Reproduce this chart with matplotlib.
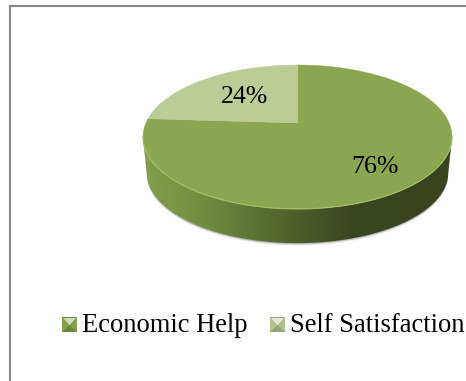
import numpy as np
import matplotlib
matplotlib.use("Agg")
import matplotlib.pyplot as plt
from matplotlib.colors import LinearSegmentedColormap, to_rgb
from matplotlib.patches import Polygon

# pie data
labels = ["Economic Help", "Self Satisfaction"]
values = [76, 24]
colors = ["#8aa650", "#bbcc97"]

W, H = 466, 381
plt.rcParams["font.family"] = ["Liberation Serif", "DejaVu Serif"]

# perspective of the pie disc, in pixels
CX = 297.5
APEX_Y = 123.0
SCALE_X = 151.6
SCALE_Y = -45.4
PERSP = 0.194
DEPTH = 36.0
SHRINK = 0.975
MID_Y = 137.0


def project(u, v):
    w = 1 + PERSP * v
    return CX + SCALE_X * u / w, (SCALE_Y * v + APEX_Y) / w


def arc(start, end, n=200):
    # angles are measured clockwise from 12 o'clock
    t = np.radians(np.linspace(start, end, n))
    return project(np.sin(t), np.cos(t))


def lower_rim(x, y):
    return CX + (x - CX) * SHRINK, MID_Y + (y - MID_Y) * SHRINK + DEPTH


def mix(color, other, amount):
    c, o = np.array(to_rgb(color)), np.array(to_rgb(other))
    return tuple(c + (o - c) * amount)


fig = plt.figure(figsize=(W / 100, H / 100), dpi=100)
ax = fig.add_axes([0, 0, 1, 1])

# outer frame, only left and top are visible
ax.plot([10, 10, W], [H, 5.8, 5.8], color="#868686", lw=1.5,
        solid_joinstyle="miter", zorder=1)

# find the widest points of the rim, the wall is drawn between them
xs, ys = arc(0, 360, 720)
left, right = np.argmin(xs), np.argmax(xs)
front = np.arange(right, left + 1)
top_x, top_y = xs[front], ys[front]
low_x, low_y = lower_rim(top_x, top_y)
wall = np.column_stack([np.r_[top_x, low_x[::-1]], np.r_[top_y, low_y[::-1]]])

# soft shadow under the wall
for off, alpha in [(2.5, 0.10), (1.5, 0.18), (0.8, 0.25)]:
    ax.add_patch(Polygon(wall + [0, off], closed=True, fc="#555555", ec="none",
                         alpha=alpha, zorder=2))

wall_cmap = LinearSegmentedColormap.from_list("wall", [
    (0.0, "#82a04c"), (0.2, "#718c41"), (0.5, "#4e5d2a"),
    (0.68, "#3a4520"), (1.0, "#394320")])
wall_patch = Polygon(wall, closed=True, fc="none", ec="none", zorder=3)
ax.add_patch(wall_patch)
grad = np.linspace(0, 1, 256).reshape(1, -1)
img = ax.imshow(grad, cmap=wall_cmap, aspect="auto", zorder=3,
                extent=[xs.min(), xs.max(), low_y.max() + 2, ys.min()])
img.set_clip_path(wall_patch)

# top face, clockwise from 12 o'clock
shares = np.array(values) / sum(values) * 360
edges = np.r_[0, np.cumsum(shares)]
apex = project(0, 0)
for start, end, col in zip(edges[:-1], edges[1:], colors):
    x, y = arc(start, end)
    pts = np.column_stack([np.r_[apex[0], x], np.r_[apex[1], y]])
    ax.add_patch(Polygon(pts, closed=True, fc=col, ec=col, lw=0.3, zorder=4))

# light bevel on the front of the rim
ax.plot(top_x, top_y, color="#a5c166", lw=0.8, zorder=5)

# percentage labels, slightly off the middle of the slice for the big one
label_radius = [0.726, 0.55]
label_nudge = [4.4, 0]
for start, share, val, r, nudge in zip(edges[:-1], shares, values, label_radius, label_nudge):
    t = np.radians(start + share / 2 + nudge)
    x, y = project(r * np.sin(t), r * np.cos(t))
    ax.text(x, y, f"{val}%", ha="center", va="center", fontsize=18.6,
            color="black", zorder=6)

# legend with small bevelled squares
key_x = [62, 270]
KEY = 15
KEY_Y = 317
for kx, name, col in zip(key_x, labels, colors):
    x0, x1, y0, y1 = kx, kx + KEY, KEY_Y, KEY_Y + KEY
    mx, my = kx + KEY / 2, KEY_Y + KEY * 0.55
    ax.add_patch(Polygon([(x0, y0), (x1, y0), (x1, y1), (x0, y1)], closed=True,
                         fc=mix(col, "black", 0.2), ec="none", zorder=4))
    ax.add_patch(Polygon([(x0, y0), (mx, my), (x0, y1)], closed=True,
                         fc=mix(col, "black", 0.05), ec="none", zorder=5))
    ax.add_patch(Polygon([(x1, y0), (mx, my), (x1, y1)], closed=True,
                         fc=mix(col, "black", 0.05), ec="none", zorder=5))
    ax.add_patch(Polygon([(x0 + 1, y0 + 1), (x1 - 1, y0 + 1), (mx, my)], closed=True,
                         fc=mix(col, "white", 0.6), ec="none", zorder=5))
    ax.text(x1 + 5, KEY_Y + KEY, name, ha="left", va="baseline", fontsize=19.1,
            color="black", zorder=6)

ax.set_xlim(0, W)
ax.set_ylim(H, 0)
ax.axis("off")

fig.savefig("out.png", dpi=100, facecolor="white")
